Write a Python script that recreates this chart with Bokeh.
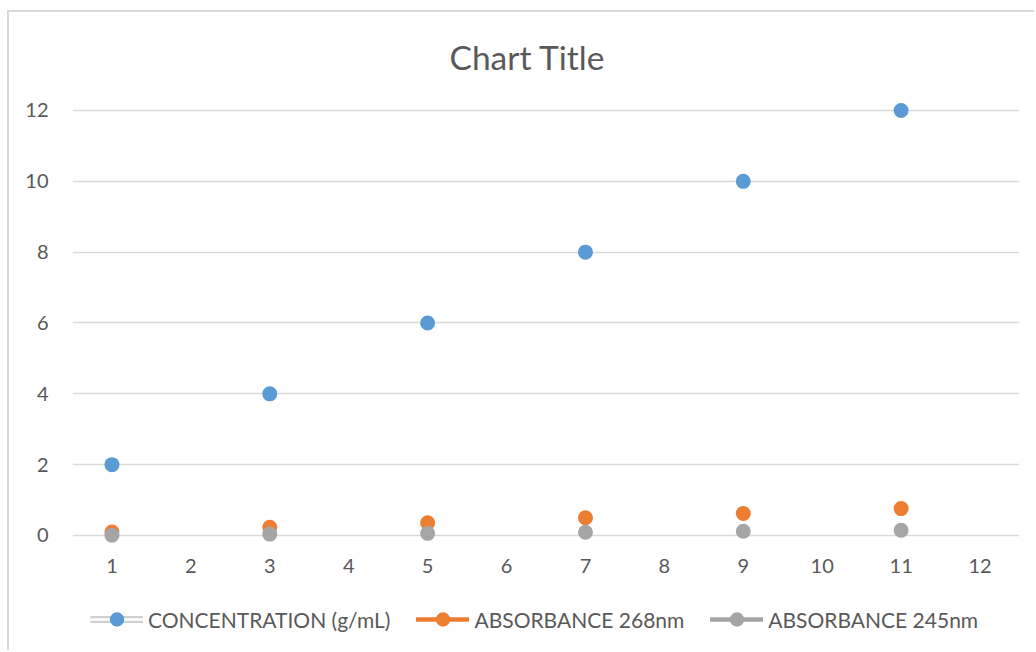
from bokeh.plotting import figure
from bokeh.models import Range1d, FixedTicker, Legend, LegendItem, ColumnDataSource
from bokeh.embed import file_html
from bokeh.resources import INLINE
from bokeh.core.properties import value

categories = [1, 3, 5, 7, 9, 11]
concentration = [2, 4, 6, 8, 10, 12]
abs_268 = [0.10, 0.23, 0.36, 0.50, 0.62, 0.76]
abs_245 = [0.01, 0.04, 0.06, 0.09, 0.12, 0.15]
x_ticks = list(range(1, 13))
y_ticks = [0, 2, 4, 6, 8, 10, 12]

BLUE = "#5B9BD5"
ORANGE = "#ED7D31"
GRAY = "#A5A5A5"
GRID = "#D9D9D9"
TEXT = "#595959"
FONT = "Lato"

p = figure(width=1027, height=640, output_backend="svg", toolbar_location=None,
           x_range=Range1d(0.5, 12.5), y_range=Range1d(-3.3035, 12.282),
           x_axis_location=None,
           min_border_left=63, min_border_right=17, min_border_top=88, min_border_bottom=0)
p.margin = (10, 0, 0, 7)
p.styles = {"border-left": "2px solid #D9D9D9", "border-top": "2px solid #D9D9D9"}

p.title.text = "Chart Title"
p.title.text_font = FONT
p.title.text_font_size = "33.5px"
p.title.text_font_style = "normal"
p.title.text_color = TEXT
p.title.align = "left"
p.title.vertical_align = "top"
p.title.offset = 377
p.title.standoff = 44

p.outline_line_color = None
p.xgrid.grid_line_color = None
p.ygrid.grid_line_color = GRID
p.ygrid.grid_line_width = 1.5
p.ygrid.ticker = FixedTicker(ticks=y_ticks)

ax = p.yaxis[0]
ax.axis_line_color = None
ax.major_tick_line_color = None
ax.minor_tick_line_color = None
ax.major_tick_out = 0
ax.major_tick_in = 0
ax.minor_tick_out = 0
ax.major_label_text_font = FONT
ax.major_label_text_font_size = "20px"
ax.major_label_text_color = TEXT
ax.ticker = FixedTicker(ticks=y_ticks)
ax.major_label_standoff = 24

# category axis labels (1..12) under the zero line
tick_src = ColumnDataSource(dict(x=x_ticks, y=[0] * len(x_ticks), t=[str(v) for v in x_ticks]))
p.text("x", "y", text="t", source=tick_src, y_offset=31, text_align="center",
       text_baseline="middle", text_font=value(FONT), text_font_size="20px", text_color=TEXT)

src = ColumnDataSource(dict(x=categories, c=concentration, a268=abs_268, a245=abs_245))
r_c = p.scatter("x", "c", source=src, size=15, fill_color=BLUE, line_color=None)
r_o = p.scatter("x", "a268", source=src, size=15, fill_color=ORANGE, line_color=None)
r_g = p.scatter("x", "a245", source=src, size=15, fill_color=GRAY, line_color=None)

nan = float("nan")
ghost = ColumnDataSource(dict(x=[nan, nan], y=[nan, nan]))
l_c1 = p.line("x", "y", source=ghost, line_color="#D0D0D0", line_width=7)
l_c2 = p.line("x", "y", source=ghost, line_color="white", line_width=2.5)
l_o = p.line("x", "y", source=ghost, line_color=ORANGE, line_width=4.5, line_cap="round")
l_g = p.line("x", "y", source=ghost, line_color=GRAY, line_width=4.5, line_cap="round")

legend = Legend(items=[
    LegendItem(label="CONCENTRATION (g/mL)", renderers=[l_c1, l_c2, r_c]),
    LegendItem(label="ABSORBANCE 268nm", renderers=[l_o, r_o]),
    LegendItem(label="ABSORBANCE 245nm", renderers=[l_g, r_g]),
], orientation="horizontal", location=(18, 15))
legend.glyph_width = 53
legend.glyph_height = 36
legend.label_standoff = 5
legend.spacing = 26
legend.padding = 0
legend.margin = 0
legend.border_line_color = None
legend.background_fill_alpha = 0
legend.label_text_font = FONT
legend.label_text_font_size = "21px"
legend.label_text_color = TEXT
p.add_layout(legend, "center")

open("out.html", "w").write(file_html(p, INLINE))
